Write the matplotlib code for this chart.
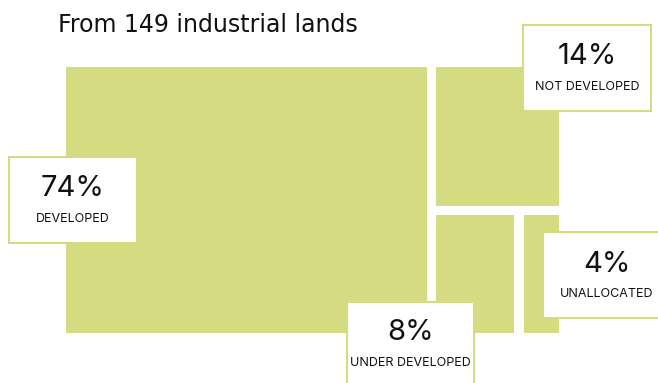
import matplotlib
matplotlib.use("Agg")
import matplotlib.pyplot as plt
from matplotlib.patches import Rectangle

title = "From 149 industrial lands"
categories = ["DEVELOPED", "NOT DEVELOPED", "UNDER DEVELOPED", "UNALLOCATED"]
values = [74, 14, 8, 4]

GREEN = "#D4DB80"
W, H = 658, 383
fig = plt.figure(figsize=(W / 100, H / 100), dpi=100)
fig.patch.set_facecolor("white")

# treemap area in pixels
L, R, T, B = 68, 559, 67, 333
ax = fig.add_axes([L / W, 1 - B / H, (R - L) / W, (B - T) / H])
ax.set_xlim(0, 1)
ax.set_ylim(0, 1)
ax.axis("off")

px = 1 / (R - L)
gx = 9 * px        # gap in x (data units)
gy = 9 / (B - T)   # gap in y

total = sum(values)
v_dev, v_not, v_under, v_unal = values
x_split = v_dev / total
rest = v_not + v_under + v_unal
y_split = 1 - v_not / rest           # top-right occupies upper part
x_split2 = x_split + (1 - x_split) * v_under / (v_under + v_unal)

rects = [
    (-2 * px, 0, x_split - gx / 2 + 2 * px, 1),
    (x_split + gx / 2, y_split + gy / 2, 1 - x_split - gx / 2, 1 - y_split - gy / 2),
    (x_split + gx / 2, 0, x_split2 - x_split - gx + 2 * px, y_split - gy / 2),
    (x_split2 + gx / 2 + 3 * px, 0, 1 - x_split2 - gx / 2 - 3 * px, y_split - gy / 2),
]
for (x, y, w, h) in rects:
    ax.add_patch(Rectangle((x, y), w, h, facecolor=GREEN, edgecolor="none",
                           clip_on=False))

fig.text(58 / W, 1 - 25 / H, title, fontsize=17, family="DejaVu Sans",
         fontweight="normal", va="center", ha="left", color="#111111")

# label boxes (pixel geometry: left, top, width, height, number y, label y)
boxes = [
    (9, 157, 128, 86, 188, 219),
    (523, 25, 128, 86, 56, 87),
    (347, 302, 127, 90, 333, 363),
    (543, 232, 128, 86, 264, 294),
]
for (bx, by, bw, bh, ny, ly), cat, v in zip(boxes, categories, values):
    fig.add_artist(Rectangle((bx / W, 1 - (by + bh) / H), bw / W, bh / H,
                             transform=fig.transFigure, facecolor="white",
                             edgecolor=GREEN, linewidth=1.5, zorder=5))
    cx = (bx + bw / 2) / W
    fig.text(cx, 1 - ny / H, f"{v}%", fontsize=21, family="Inter",
             ha="center", va="center", color="#111111", zorder=6)
    fig.text(cx, 1 - ly / H, cat, fontsize=9, family="Inter",
             ha="center", va="center", color="#111111", zorder=6)

fig.savefig("out.png", dpi=100)
